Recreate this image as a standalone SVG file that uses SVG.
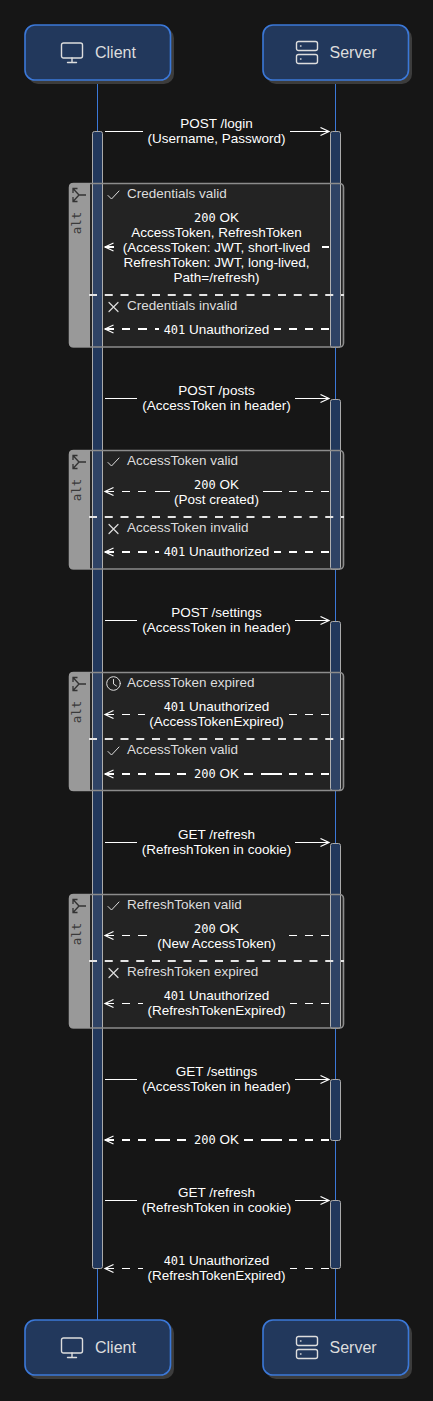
<svg xmlns="http://www.w3.org/2000/svg" width="433" height="1401" viewBox="0 0 433 1401">
<defs>
<style>
text{font-family:"Liberation Sans",Arial,sans-serif;font-size:13.5px;fill:#fff}
.c{text-anchor:middle}
.n{font-family:"DejaVu Sans Mono",monospace;font-size:12px}
.lab{fill:#ddd}
.title{font-size:16px;fill:#ddd}
.alt{font-family:"DejaVu Sans Mono",monospace;font-size:12.5px;fill:#3a3a3a;text-anchor:middle}
.box{fill:#22385c;stroke:#3b78d8;stroke-width:1.6}
.shadow{fill:#3c3c3c}
.life{stroke:#3b78d8;stroke-width:1}
.act{fill:#22385c;stroke:#aaa;stroke-width:1}
.icon{fill:none;stroke:#ddd;stroke-width:1.4;stroke-linecap:round;stroke-linejoin:round}
.thin{fill:none;stroke:#ddd;stroke-width:1;stroke-linecap:round;stroke-linejoin:round}
.frame{fill:#fff;fill-opacity:.06;stroke:#8c8c8c;stroke-width:1.6}
.tab{fill:#999}
.div{stroke:#e4e4e4;stroke-width:2;stroke-dasharray:8 7.75}
.m{stroke:#fff;stroke-width:1;fill:none}
.d{stroke-dasharray:9 8 8 8}
.dr{stroke-dasharray:8 8}
.t{stroke-width:2}
.l1{stroke-dasharray:9 8 8 8 8 9 15}
.r1{stroke-dasharray:8 8 8 8 8 7 19}
.l2{stroke-dasharray:9 8 8 8 8 9 15 7 9}
.r2{stroke-dasharray:8 8 8 8 8 7 21 8 9}
</style>
<marker id="a" markerUnits="userSpaceOnUse" markerWidth="12" markerHeight="12" refX="9.5" refY="5" orient="auto-start-reverse"><path d="M1,1 L9.5,5 L1,9" fill="none" stroke="#fff" stroke-width="1.2"/></marker>
<g id="ico-monitor"><rect class="icon" x="0" y="0" width="21" height="15" rx="2"/><path class="icon" d="M10.5,15V19M6,19.5H15"/></g>
<g id="ico-server"><rect class="icon" x="0" y="0" width="21" height="9" rx="2"/><rect class="icon" x="0" y="13" width="21" height="9" rx="2"/><path class="icon" d="M4,4.5h.5M4,17.5h.5"/></g>
<path id="ico-check" class="thin" d="M0,4.500L3.500,8L11,0"/>
<path id="ico-x" class="thin" style="stroke-width:1.200" d="M0,0L9,9M9,0L0,9"/>
<path id="ico-alt" d="M86,195H79L73,188.500M73,193V188.500H77.500M79,195L73,201.500M73,197V201.500H77.500" fill="none" stroke="#333" stroke-width="1.3"/>
</defs>
<rect width="433" height="1401" fill="#161616"/>

<g id="lifelines">
<line class="life" x1="97.5" y1="80" x2="97.5" y2="1320"/>
<line class="life" x1="335.5" y1="80" x2="335.5" y2="1320"/>
</g>

<g id="activations">
<rect class="act" x="92.5" y="131.5" width="10" height="1137" rx="2"/>
<rect class="act" x="330.5" y="131.5" width="10" height="216" rx="2"/>
<rect class="act" x="330.5" y="399.5" width="10" height="170" rx="2"/>
<rect class="act" x="330.5" y="621.5" width="10" height="169" rx="2"/>
<rect class="act" x="330.5" y="843.5" width="10" height="185" rx="2"/>
<rect class="act" x="330.5" y="1079.5" width="10" height="61" rx="2"/>
<rect class="act" x="330.5" y="1200.5" width="10" height="68" rx="2"/>
</g>

<g id="client-top">
<rect class="shadow" x="28" y="28" width="146" height="56" rx="10"/>
<rect class="box" x="25" y="25" width="145.500" height="55" rx="10"/>
<use href="#ico-monitor" x="61.500" y="43"/>
<text class="title" x="95" y="57.500">Client</text>
</g>
<g id="server-top">
<rect class="shadow" x="266" y="28" width="146" height="56" rx="10"/>
<rect class="box" x="263" y="25" width="145.500" height="55" rx="10"/>
<use href="#ico-server" x="296.500" y="41.500"/>
<text class="title" x="329.500" y="57.500">Server</text>
</g>
<g id="client-bottom">
<rect class="shadow" x="28" y="1323" width="146" height="56" rx="10"/>
<rect class="box" x="25" y="1320" width="145.500" height="55" rx="10"/>
<use href="#ico-monitor" x="61.500" y="1338"/>
<text class="title" x="95" y="1352.500">Client</text>
</g>
<g id="server-bottom">
<rect class="shadow" x="266" y="1323" width="146" height="56" rx="10"/>
<rect class="box" x="263" y="1320" width="145.500" height="55" rx="10"/>
<use href="#ico-server" x="296.500" y="1336.500"/>
<text class="title" x="329.500" y="1352.500">Server</text>
</g>

<g id="alt-1">
<rect class="frame" x="69.500" y="183.500" width="274" height="163.500" rx="4"/>
<path class="tab" d="M73,183H90V347H73a4,4 0 0 1-4-4V187a4,4 0 0 1 4-4Z"/>
<use href="#ico-alt"/>
<text class="alt" transform="translate(81,223) rotate(-90)">alt</text>
<line class="div" x1="89" y1="295" x2="344" y2="295"/>
<use href="#ico-check" x="108" y="191"/>
<text class="lab" x="127" y="198">Credentials valid</text>
<use href="#ico-x" x="109" y="302.500"/>
<text class="lab" x="127" y="310">Credentials invalid</text>
</g>
<g id="alt-2">
<rect class="frame" x="69.500" y="450.500" width="274" height="118.500" rx="4"/>
<path class="tab" d="M73,450H90V569H73a4,4 0 0 1-4-4V454a4,4 0 0 1 4-4Z"/>
<use href="#ico-alt" y="267"/>
<text class="alt" transform="translate(81,490) rotate(-90)">alt</text>
<line class="div" x1="89" y1="517" x2="344" y2="517"/>
<use href="#ico-check" x="108" y="458"/>
<text class="lab" x="127" y="465">AccessToken valid</text>
<use href="#ico-x" x="109" y="524.500"/>
<text class="lab" x="127" y="532">AccessToken invalid</text>
</g>
<g id="alt-3">
<rect class="frame" x="69.500" y="672.500" width="274" height="118" rx="4"/>
<path class="tab" d="M73,672H90V791H73a4,4 0 0 1-4-4V676a4,4 0 0 1 4-4Z"/>
<use href="#ico-alt" y="489"/>
<text class="alt" transform="translate(81,712) rotate(-90)">alt</text>
<line class="div" x1="89" y1="739" x2="344" y2="739"/>
<circle class="thin" cx="113.500" cy="683.500" r="6.800"/>
<path class="thin" d="M113.500,679.500V684L116.500,686"/>
<text class="lab" x="127" y="687">AccessToken expired</text>
<use href="#ico-check" x="108" y="747"/>
<text class="lab" x="127" y="754">AccessToken valid</text>
</g>
<g id="alt-4">
<rect class="frame" x="69.500" y="894.500" width="274" height="133.500" rx="4"/>
<path class="tab" d="M73,894H90V1028H73a4,4 0 0 1-4-4V898a4,4 0 0 1 4-4Z"/>
<use href="#ico-alt" y="711"/>
<text class="alt" transform="translate(81,934) rotate(-90)">alt</text>
<line class="div" x1="89" y1="961" x2="344" y2="961"/>
<use href="#ico-check" x="108" y="902"/>
<text class="lab" x="127" y="909">RefreshToken valid</text>
<use href="#ico-x" x="109" y="968.500"/>
<text class="lab" x="127" y="976">RefreshToken expired</text>
</g>

<g id="connectors">
<path class="m" d="M105,131.500H143"/><path class="m" d="M290,131.500H329" marker-end="url(#a)"/>
<path class="m t" d="M105,247H114" marker-start="url(#a)"/><path class="m t" d="M329,247H322"/>
<path class="m d t" d="M105,329H159" marker-start="url(#a)"/><path class="m dr t" d="M329,329H274"/>
<path class="m" d="M105,398.500H137"/><path class="m" d="M295,398.500H329" marker-end="url(#a)"/>
<path class="m l1" d="M105,491.500H170" marker-start="url(#a)"/><path class="m r1" d="M329,491.500H263"/>
<path class="m d t" d="M105,552H159" marker-start="url(#a)"/><path class="m dr t" d="M329,552H274"/>
<path class="m" d="M105,620.500H137"/><path class="m" d="M295,620.500H329" marker-end="url(#a)"/>
<path class="m d" d="M105,714.500H145" marker-start="url(#a)"/><path class="m dr" d="M329,714.500H288"/>
<path class="m l2 t" d="M105,774H186" marker-start="url(#a)"/><path class="m r2 t" d="M329,774H244"/>
<path class="m" d="M105,842.500H137"/><path class="m" d="M295,842.500H329" marker-end="url(#a)"/>
<path class="m d" d="M105,935.500H147" marker-start="url(#a)"/><path class="m dr" d="M329,935.500H288"/>
<path class="m d" d="M105,1003.500H143" marker-start="url(#a)"/><path class="m dr" d="M329,1003.500H290"/>
<path class="m" d="M105,1079.500H137"/><path class="m" d="M295,1079.500H329" marker-end="url(#a)"/>
<path class="m l2 t" d="M105,1140H186" marker-start="url(#a)"/><path class="m r2 t" d="M329,1140H244"/>
<path class="m" d="M105,1200.500H137"/><path class="m" d="M295,1200.500H329" marker-end="url(#a)"/>
<path class="m d" d="M105,1268.500H143" marker-start="url(#a)"/><path class="m dr" d="M329,1268.500H290"/>
</g>

<g id="labels">
<text class="c" x="216.500" y="128">POST /login</text>
<text class="c" x="216.500" y="143">(Username, Password)</text>
<text class="c" x="216.500" y="222"><tspan class="n">200</tspan> OK</text>
<text class="c" x="216.500" y="237">AccessToken, RefreshToken</text>
<text class="c" x="216.500" y="252">(AccessToken: JWT, short-lived</text>
<text class="c" x="216.500" y="267">RefreshToken: JWT, long-lived,</text>
<text class="c" x="216.500" y="282">Path=/refresh)</text>
<text class="c" x="216.500" y="334"><tspan class="n">401</tspan> Unauthorized</text>
<text class="c" x="216.500" y="395">POST /posts</text>
<text class="c" x="216.500" y="410">(AccessToken in header)</text>
<text class="c" x="216.500" y="489"><tspan class="n">200</tspan> OK</text>
<text class="c" x="216.500" y="504">(Post created)</text>
<text class="c" x="216.500" y="556"><tspan class="n">401</tspan> Unauthorized</text>
<text class="c" x="216.500" y="617">POST /settings</text>
<text class="c" x="216.500" y="632">(AccessToken in header)</text>
<text class="c" x="216.500" y="711"><tspan class="n">401</tspan> Unauthorized</text>
<text class="c" x="216.500" y="726">(AccessTokenExpired)</text>
<text class="c" x="216.500" y="778"><tspan class="n">200</tspan> OK</text>
<text class="c" x="216.500" y="839">GET /refresh</text>
<text class="c" x="216.500" y="854">(RefreshToken in cookie)</text>
<text class="c" x="216.500" y="933"><tspan class="n">200</tspan> OK</text>
<text class="c" x="216.500" y="948">(New AccessToken)</text>
<text class="c" x="216.500" y="1000"><tspan class="n">401</tspan> Unauthorized</text>
<text class="c" x="216.500" y="1015">(RefreshTokenExpired)</text>
<text class="c" x="216.500" y="1076">GET /settings</text>
<text class="c" x="216.500" y="1091">(AccessToken in header)</text>
<text class="c" x="216.500" y="1144"><tspan class="n">200</tspan> OK</text>
<text class="c" x="216.500" y="1197">GET /refresh</text>
<text class="c" x="216.500" y="1212">(RefreshToken in cookie)</text>
<text class="c" x="216.500" y="1265"><tspan class="n">401</tspan> Unauthorized</text>
<text class="c" x="216.500" y="1280">(RefreshTokenExpired)</text>
</g>
</svg>
